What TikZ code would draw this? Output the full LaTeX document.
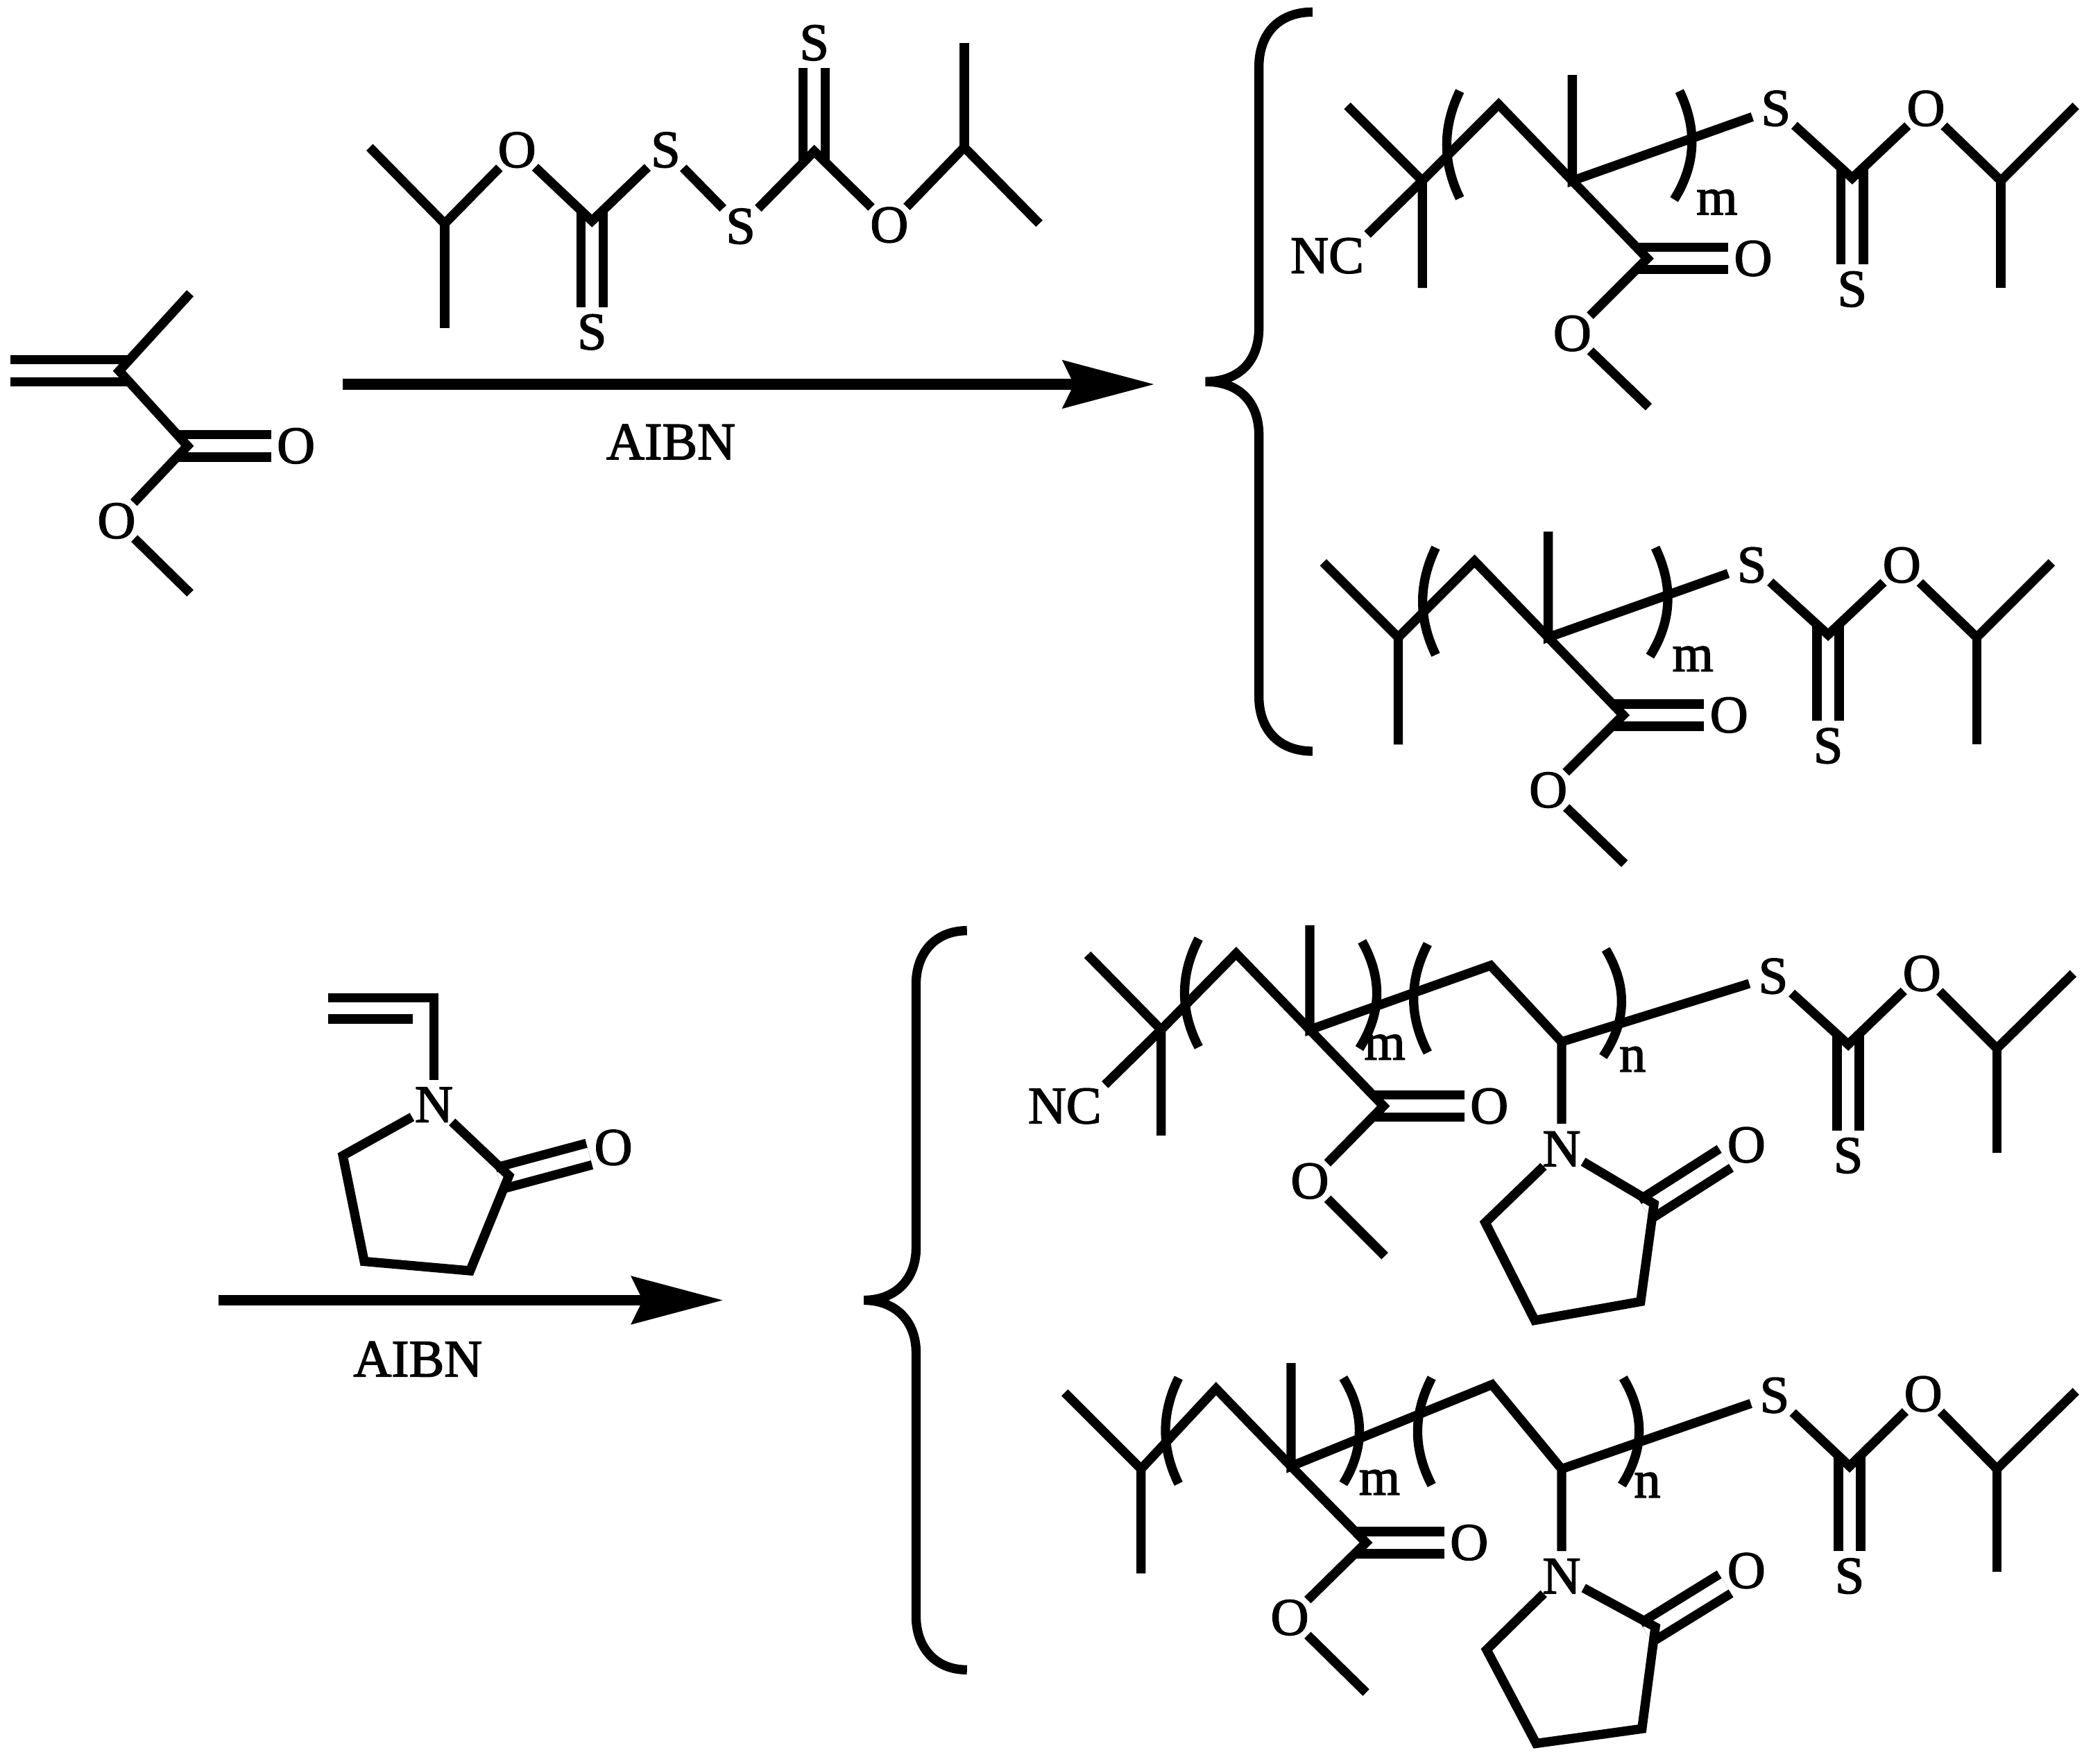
\documentclass[tikz,border=0pt]{standalone}
\usepackage{fontspec}
\setmainfont{Liberation Serif}[FakeBold=2]
\usetikzlibrary{arrows.meta}
\begin{document}
\begin{tikzpicture}[x=0.01cm,y=0.01cm]
\tikzstyle{bond}=[black, line width=0.069cm]
\tikzstyle{dbl}=[bond, double, double distance=0.097cm, shorten <=-0.08cm]
\tikzstyle{atom}=[circle, inner sep=-0.02cm, minimum size=0.36cm, font=\fontsize{11.2}{12}\selectfont]
\tikzstyle{grp}=[inner sep=0.02cm, font=\fontsize{11.2}{12}\selectfont]
\tikzstyle{rxn}=[black, line width=0.08cm, -{Stealth[length=0.68cm, width=0.35cm, inset=0.08cm]}]
\useasboundingbox (0,0) rectangle (1568,-1312);
%MMA
\coordinate (mv) at (8,-277);
\coordinate (mc) at (89,-277);
\coordinate (mm) at (142,-219);
\coordinate (mk) at (140,-333);
\coordinate (me) at (142,-443);
\node [atom] (mo1) at (221,-333) {O};
\node [atom] (mo2) at (87,-389) {O};
\draw [dbl] (mc) -- (mv);
\draw [dbl] (mk) -- (mo1);
\draw [bond] (mm) -- (mc) -- (mk) -- (mo2) -- (me);
%initiator
\coordinate (i1) at (276,-110);
\coordinate (i2) at (332,-167);
\coordinate (i3) at (332,-245);
\coordinate (i4) at (442,-165);
\coordinate (i5) at (608,-113);
\coordinate (i6) at (720,-110);
\coordinate (i7) at (776,-167);
\coordinate (i8) at (720,-32);
\node [atom] (io1) at (386,-112) {O};
\node [atom] (is1) at (442,-248) {S};
\node [atom] (is2) at (497,-112) {S};
\node [atom] (is3) at (553,-169) {S};
\node [atom] (is4) at (608,-32) {S};
\node [atom] (io2) at (664,-168) {O};
\draw [dbl] (i4) -- (is1);
\draw [dbl] (i5) -- (is4);
\draw [bond] (i1) -- (i2) -- (io1) -- (i4) -- (is2) -- (is3) -- (i5) -- (io2) -- (i6) -- (i7);
\draw [bond] (i2) -- (i3);
\draw [bond] (i6) -- (i8);
%first arrow
\coordinate (ar1) at (256,-287);
\coordinate (ar1e) at (862,-287);
\draw [rxn] (ar1) -- (ar1e);
\node [grp] (aibn1) at (501,-330) {AIBN};
%first brace
\draw [bond] (980,-9) .. controls (955,-9) and (940,-25) .. (940,-50) -- (940,-245) .. controls (940,-270) and (925,-285) .. (900,-285) .. controls (925,-285) and (940,-300) .. (940,-325) -- (940,-520) .. controls (940,-545) and (955,-561) .. (980,-561);
%product A
\coordinate (a1) at (1006,-79);
\coordinate (a2) at (1062,-135);
\coordinate (a3) at (1062,-215);
\coordinate (a4) at (1119,-78);
\coordinate (a5) at (1174,-135);
\coordinate (a6) at (1174,-56);
\coordinate (a7) at (1230,-193);
\coordinate (a8) at (1231,-304);
\coordinate (a9) at (1383,-133);
\coordinate (a10) at (1494,-135);
\coordinate (a11) at (1550,-79);
\coordinate (a12) at (1494,-215);
\node [grp] (anc) at (991,-191) {NC};
\node [atom] (ao1) at (1309,-193) {O};
\node [atom] (ao2) at (1174,-249) {O};
\node [atom] (as1) at (1326,-81) {S};
\node [atom] (as2) at (1383,-216) {S};
\node [atom] (ao3) at (1438,-81) {O};
\node [grp] (am) at (1282,-151) {m};
\draw [dbl] (a7) -- (ao1);
\draw [dbl] (a9) -- (as2);
\draw [bond] (a1) -- (a2) -- (a3);
\draw [bond] (anc.north east) -- (a2) -- (a4) -- (a5) -- (a7) -- (ao2) -- (a8);
\draw [bond] (a6) -- (a5) -- (as1) -- (a9) -- (ao3) -- (a10) -- (a11);
\draw [bond] (a10) -- (a12);
\draw [bond] (1090,-68) .. controls (1077,-95) and (1077,-121) .. (1090,-148);
\draw [bond] (1254,-68) .. controls (1267,-95) and (1267,-122) .. (1250,-149);
%product B
\coordinate (b1) at (988,-420);
\coordinate (b2) at (1044,-476);
\coordinate (b3) at (1044,-556);
\coordinate (b4) at (1101,-419);
\coordinate (b5) at (1156,-476);
\coordinate (b6) at (1156,-397);
\coordinate (b7) at (1212,-534);
\coordinate (b8) at (1213,-645);
\coordinate (b9) at (1365,-474);
\coordinate (b10) at (1476,-476);
\coordinate (b11) at (1532,-420);
\coordinate (b12) at (1476,-556);
\node [atom] (bo1) at (1291,-534) {O};
\node [atom] (bo2) at (1156,-590) {O};
\node [atom] (bs1) at (1308,-422) {S};
\node [atom] (bs2) at (1365,-557) {S};
\node [atom] (bo3) at (1420,-422) {O};
\node [grp] (bm) at (1264,-492) {m};
\draw [dbl] (b7) -- (bo1);
\draw [dbl] (b9) -- (bs2);
\draw [bond] (b1) -- (b2) -- (b3);
\draw [bond] (b2) -- (b4) -- (b5) -- (b7) -- (bo2) -- (b8);
\draw [bond] (b6) -- (b5) -- (bs1) -- (b9) -- (bo3) -- (b10) -- (b11);
\draw [bond] (b10) -- (b12);
\draw [bond] (1072,-409) .. controls (1059,-436) and (1059,-462) .. (1072,-489);
\draw [bond] (1236,-409) .. controls (1249,-436) and (1249,-463) .. (1232,-490);
%NVP
\coordinate (v1) at (245,-745);
\coordinate (v2) at (324,-745);
\coordinate (v3) at (245,-761);
\coordinate (v4) at (308,-761);
\coordinate (v5) at (380,-878);
\coordinate (v6) at (351,-949);
\coordinate (v7) at (272,-942);
\coordinate (v8) at (256,-863);
\node [atom] (vn) at (324,-825) {N};
\node [atom] (vo) at (458,-857) {O};
\draw [dbl] (v5) -- (vo);
\draw [bond] (v1) -- (v2) -- (vn);
\draw [bond] (v3) -- (v4);
\draw [bond] (vn) -- (v5) -- (v6) -- (v7) -- (v8) -- (vn);
%second arrow
\coordinate (ar2) at (163,-971);
\coordinate (ar2e) at (540,-971);
\draw [rxn] (ar2) -- (ar2e);
\node [grp] (aibn2) at (312,-1015) {AIBN};
%second brace
\draw [bond] (722,-695) .. controls (698,-695) and (684,-712) .. (684,-735) -- (684,-932) .. controls (684,-955) and (669,-971) .. (645,-971) .. controls (669,-971) and (684,-987) .. (684,-1010) -- (684,-1207) .. controls (684,-1230) and (698,-1247) .. (722,-1247);
%product C
\coordinate (c1) at (812,-713);
\coordinate (c2) at (867,-769);
\coordinate (c3) at (867,-848);
\coordinate (c4) at (923,-712);
\coordinate (c5) at (978,-769);
\coordinate (c6) at (978,-691);
\coordinate (c7) at (1033,-826);
\coordinate (c8) at (1034,-938);
\coordinate (c9) at (1113,-721);
\coordinate (c10) at (1166,-778);
\coordinate (c11) at (1235,-899);
\coordinate (c12) at (1225,-972);
\coordinate (c13) at (1146,-986);
\coordinate (c14) at (1109,-913);
\coordinate (c15) at (1380,-780);
\coordinate (c16) at (1491,-783);
\coordinate (c17) at (1548,-727);
\coordinate (c18) at (1491,-861);
\node [grp] (cnc) at (795,-826) {NC};
\node [atom] (co1) at (1112,-826) {O};
\node [atom] (co2) at (978,-882) {O};
\node [atom] (cn) at (1166,-858) {N};
\node [atom] (co3) at (1304,-855) {O};
\node [atom] (cs1) at (1324,-729) {S};
\node [atom] (cs2) at (1380,-863) {S};
\node [atom] (co4) at (1435,-727) {O};
\node [grp] (cm) at (1034,-782) {m};
\node [grp] (cnn) at (1219,-791) {n};
\draw [dbl] (c7) -- (co1);
\draw [dbl] (c11) -- (co3);
\draw [dbl] (c15) -- (cs2);
\draw [bond] (c1) -- (c2) -- (c3);
\draw [bond] (cnc.north east) -- (c2) -- (c4) -- (c5) -- (c7) -- (co2) -- (c8);
\draw [bond] (c6) -- (c5) -- (c9) -- (c10) -- (cs1) -- (c15) -- (co4) -- (c16) -- (c17);
\draw [bond] (c16) -- (c18);
\draw [bond] (c10) -- (cn) -- (c11) -- (c12) -- (c13) -- (c14) -- (cn);
\draw [bond] (895,-701) .. controls (881,-728) and (881,-755) .. (895,-782);
\draw [bond] (1017,-703) .. controls (1032,-730) and (1032,-756) .. (1015,-783);
\draw [bond] (1066,-705) .. controls (1052,-732) and (1052,-759) .. (1066,-786);
\draw [bond] (1199,-709) .. controls (1215,-736) and (1215,-762) .. (1197,-789);
%product D
\coordinate (d1) at (795,-1040);
\coordinate (d2) at (852,-1097);
\coordinate (d3) at (852,-1175);
\coordinate (d4) at (908,-1037);
\coordinate (d5) at (964,-1095);
\coordinate (d6) at (964,-1018);
\coordinate (d7) at (1020,-1152);
\coordinate (d8) at (1020,-1264);
\coordinate (d9) at (1114,-1034);
\coordinate (d10) at (1166,-1097);
\coordinate (d11) at (1236,-1215);
\coordinate (d12) at (1226,-1291);
\coordinate (d13) at (1147,-1302);
\coordinate (d14) at (1110,-1232);
\coordinate (d15) at (1381,-1095);
\coordinate (d16) at (1491,-1097);
\coordinate (d17) at (1550,-1039);
\coordinate (d18) at (1491,-1174);
\node [atom] (do1) at (1097,-1152) {O};
\node [atom] (do2) at (963,-1208) {O};
\node [atom] (dn) at (1166,-1177) {N};
\node [atom] (do3) at (1304,-1173) {O};
\node [atom] (ds1) at (1325,-1042) {S};
\node [atom] (ds2) at (1381,-1177) {S};
\node [atom] (do4) at (1436,-1041) {O};
\node [grp] (dm) at (1030,-1107) {m};
\node [grp] (dnn) at (1230,-1109) {n};
\draw [dbl] (d7) -- (do1);
\draw [dbl] (d11) -- (do3);
\draw [dbl] (d15) -- (ds2);
\draw [bond] (d1) -- (d2) -- (d3);
\draw [bond] (d2) -- (d4) -- (d5) -- (d7) -- (do2) -- (d8);
\draw [bond] (d6) -- (d5) -- (d9) -- (d10) -- (ds1) -- (d15) -- (do4) -- (d16) -- (d17);
\draw [bond] (d16) -- (d18);
\draw [bond] (d10) -- (dn) -- (d11) -- (d12) -- (d13) -- (d14) -- (dn);
\draw [bond] (880,-1029) .. controls (867,-1055) and (867,-1082) .. (880,-1108);
\draw [bond] (1003,-1029) .. controls (1019,-1055) and (1019,-1082) .. (1003,-1108);
\draw [bond] (1069,-1029) .. controls (1055,-1056) and (1055,-1082) .. (1069,-1109);
\draw [bond] (1212,-1029) .. controls (1228,-1056) and (1228,-1082) .. (1211,-1109);
\end{tikzpicture}
\end{document}
